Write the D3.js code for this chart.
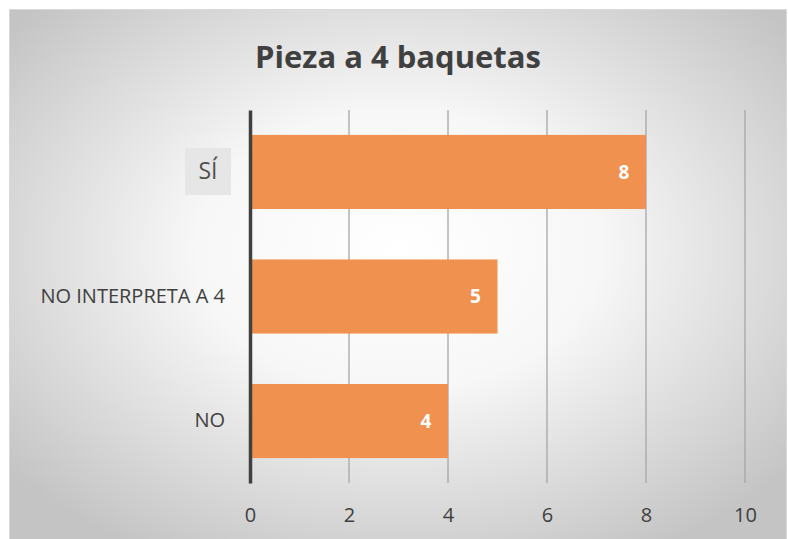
<!DOCTYPE html>
<html>
<head>
<meta charset="utf-8">
<script src="https://cdn.jsdelivr.net/npm/d3@7"></script>
<style>
  body { margin: 0; background: #fff; }
  text { font-family: "Open Sans", "Liberation Sans", sans-serif; }
</style>
</head>
<body>
<svg width="788" height="539"></svg>
<script>
var categories = ["SÍ", "NO INTERPRETA A 4", "NO"],
    values = [8, 5, 4],
    ticks = [0, 2, 4, 6, 8, 10];

var svg = d3.select("svg"),
    margin = {top: 110, right: 43, bottom: 56, left: 250},
    width = +svg.attr("width") - margin.left - margin.right,
    height = +svg.attr("height") - margin.top - margin.bottom;

// background gradient
var defs = svg.append("defs");
var grad = defs.append("radialGradient")
    .attr("id", "bg")
    .attr("cx", "50%").attr("cy", "45%").attr("r", "65%");
grad.append("stop").attr("offset", "0%").attr("stop-color", "#ffffff");
grad.append("stop").attr("offset", "40%").attr("stop-color", "#f7f7f7");
grad.append("stop").attr("offset", "100%").attr("stop-color", "#c4c4c4");

svg.append("rect")
    .attr("x", 9.5).attr("y", 9.5)
    .attr("width", 777).attr("height", 535)
    .attr("fill", "url(#bg)")
    .attr("stroke", "#d9d9d9");

svg.append("text")
    .attr("x", 398).attr("y", 68)
    .attr("text-anchor", "middle")
    .style("font-size", "31px")
    .style("font-weight", "bold")
    .style("fill", "#404040")
    .text("Pieza a 4 baquetas");

var x = d3.scaleLinear().domain([0, 10]).range([0, width]),
    y = d3.scaleBand().domain(categories).range([0, height]).paddingInner(0.405).paddingOuter(0.2);

var g = svg.append("g")
    .attr("transform", "translate(" + margin.left + "," + margin.top + ")");

// gridlines
g.selectAll(".grid")
  .data(ticks.slice(1))
  .enter().append("line")
    .attr("class", "grid")
    .attr("x1", function(d) { return x(d); })
    .attr("x2", function(d) { return x(d); })
    .attr("y1", 0)
    .attr("y2", height)
    .attr("stroke", "#a6a6a6")
    .attr("stroke-width", 1.3);

g.selectAll(".bar")
  .data(values)
  .enter().append("rect")
    .attr("class", "bar")
    .attr("x", 0)
    .attr("y", function(d, i) { return y(categories[i]); })
    .attr("width", function(d) { return x(d); })
    .attr("height", y.bandwidth())
    .attr("fill", "#f0914f");

g.selectAll(".val")
  .data(values)
  .enter().append("text")
    .attr("class", "val")
    .attr("x", function(d) { return x(d) - 22; })
    .attr("y", function(d, i) { return y(categories[i]) + y.bandwidth() / 2; })
    .attr("dy", "0.36em")
    .attr("text-anchor", "middle")
    .style("font-size", "19px")
    .style("font-weight", "bold")
    .style("fill", "#fff")
    .text(function(d) { return d; });

// x axis
var xAxis = g.append("g")
    .attr("transform", "translate(0," + height + ")")
    .call(d3.axisBottom(x).tickValues(ticks).tickSize(0).tickPadding(25));
xAxis.select(".domain").remove();
xAxis.selectAll("text")
    .style("font-size", "20px")
    .style("fill", "#404040")
    .style("font-family", "'Open Sans', sans-serif");

// y axis
var yAxis = g.append("g")
    .call(d3.axisLeft(y).tickSize(0).tickPadding(25));
yAxis.select(".domain")
    .attr("stroke", "#404040")
    .attr("stroke-width", 3.5);
yAxis.selectAll("text")
    .style("font-size", "20px")
    .style("fill", "#404040")
    .style("font-family", "'Open Sans', sans-serif");

// grey highlight box behind the first label, label centred in it
var first = yAxis.selectAll(".tick").filter(function(d) { return d === categories[0]; });
first.insert("rect", "text")
    .attr("x", -65).attr("y", -24)
    .attr("width", 46).attr("height", 47)
    .attr("fill", "#e6e6e6");
first.select("text")
    .attr("x", -42)
    .attr("text-anchor", "middle")
    .style("font-size", "23px")
    .style("fill", "#505050");
</script>
</body>
</html>
